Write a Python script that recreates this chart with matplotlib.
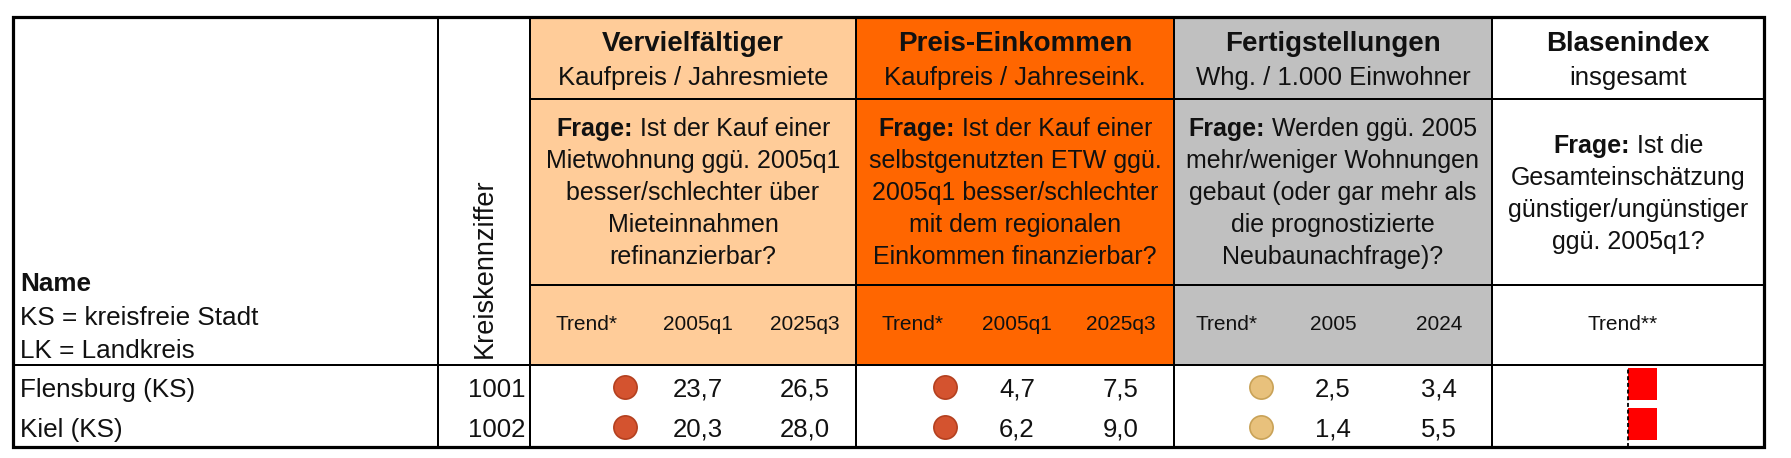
import matplotlib
matplotlib.use("Agg")
import matplotlib.pyplot as plt
from matplotlib.patches import Rectangle
import numpy as np

plt.rcParams['font.family'] = ['Liberation Sans', 'DejaVu Sans']

# ---------------- data ----------------
names = ["Flensburg (KS)", "Kiel (KS)"]
codes = ["1001", "1002"]
verv_trend = ["rot", "rot"]
verv_2005q1 = [23.7, 20.3]
verv_2025q3 = [26.5, 28.0]
preis_trend = ["rot", "rot"]
preis_2005q1 = [4.7, 6.2]
preis_2025q3 = [7.5, 9.0]
fert_trend = ["gelb", "gelb"]
fert_2005 = [2.5, 1.4]
fert_2024 = [3.4, 5.5]
blasen_trend = [1.0, 1.0]

group_titles = ["Vervielfältiger", "Preis-Einkommen", "Fertigstellungen", "Blasenindex"]
group_subtitles = ["Kaufpreis / Jahresmiete", "Kaufpreis / Jahreseink.",
                   "Whg. / 1.000 Einwohner", "insgesamt"]
group_questions = [
    ["Ist der Kauf einer", "Mietwohnung ggü. 2005q1", "besser/schlechter über",
     "Mieteinnahmen", "refinanzierbar?"],
    ["Ist der Kauf einer", "selbstgenutzten ETW ggü.", "2005q1 besser/schlechter",
     "mit dem regionalen", "Einkommen finanzierbar?"],
    ["Werden ggü. 2005", "mehr/weniger Wohnungen", "gebaut (oder gar mehr als",
     "die prognostizierte", "Neubaunachfrage)?"],
    ["Ist die", "Gesamteinschätzung", "günstiger/ungünstiger", "ggü. 2005q1?"],
]
group_headers = [["Trend*", "2005q1", "2025q3"], ["Trend*", "2005q1", "2025q3"],
                 ["Trend*", "2005", "2024"], ["Trend**"]]
name_header = ["KS = kreisfreie Stadt", "LK = Landkreis"]

# ---------------- layout ----------------
W, H = 1791, 458
fig = plt.figure(figsize=(W / 100, H / 100), dpi=100)
ax = fig.add_axes([0, 0, 1, 1])
ax.set_xlim(0, W)
ax.set_ylim(H, 0)
ax.axis('off')
renderer = fig.canvas.get_renderer()

L, R, T, B = 13, 1764, 17, 447
xcol = [438, 530, 856, 1174, 1492]
y_title, y_q, y_row = 99, 285, 365
row_y = [388, 428]
bg_colors = ["#FFCC99", "#FF6600", "#C0C0C0", "#FFFFFF"]
trend_fill = {"rot": "#D4532F", "gelb": "#E8C17C"}
trend_edge = {"rot": "#B4401F", "gelb": "#C9A257"}
txt = "#111111"
FS, FS_H, FS_T, FS_N = 18, 15, 20, 18.8
LW = 2.0 * 0.72

gx = [530, 856, 1174, 1492, 1764]
for i in range(4):
    ax.add_patch(Rectangle((gx[i], T), gx[i + 1] - gx[i], y_row - T,
                           facecolor=bg_colors[i], edgecolor='none', zorder=0))

# grid lines
for x in xcol:
    ax.plot([x, x], [T, B], color='black', lw=LW, solid_capstyle='butt', zorder=3)
for y in (y_title, y_q):
    ax.plot([530, R], [y, y], color='black', lw=LW, solid_capstyle='butt', zorder=3)
ax.plot([L, R], [y_row, y_row], color='black', lw=LW, solid_capstyle='butt', zorder=3)
ax.add_patch(Rectangle((L, T), R - L, B - T, facecolor='none', edgecolor='black',
                       lw=3.2 * 0.72, zorder=4))

# name / code header
ax.text(20, 291, "Name", fontsize=FS_N, fontweight='bold', color=txt, ha='left', va='baseline')
ax.text(20, 325, name_header[0], fontsize=FS_N, color=txt, ha='left', va='baseline')
ax.text(20, 358, name_header[1], fontsize=FS_N, color=txt, ha='left', va='baseline')
ax.text(485, 358, "Kreiskennziffer", fontsize=19.5, color=txt, rotation=90,
        ha='center', va='bottom')


def mixed_line(cx, yb, bold, rest, size):
    t1 = ax.text(0, yb, bold, fontsize=size, fontweight='bold', color=txt,
                 ha='left', va='baseline')
    t2 = ax.text(0, yb, rest, fontsize=size, color=txt, ha='left', va='baseline')
    w1 = t1.get_window_extent(renderer).width
    sp = ax.text(0, yb, "a a", fontsize=size)
    sa = ax.text(0, yb, "aa", fontsize=size)
    wsp = sp.get_window_extent(renderer).width - sa.get_window_extent(renderer).width
    sp.remove(); sa.remove()
    w2 = t2.get_window_extent(renderer).width
    x0 = cx - (w1 + wsp + w2) / 2
    t1.set_x(x0)
    t2.set_x(x0 + w1 + wsp)


for i in range(4):
    cx = (gx[i] + gx[i + 1]) / 2
    ax.text(cx, 51, group_titles[i], fontsize=FS_T, fontweight='bold', color=txt,
            ha='center', va='baseline')
    ax.text(cx, 85, group_subtitles[i], fontsize=18.5, color=txt, ha='center', va='baseline')
    lines = group_questions[i]
    n = len(lines)
    c = 191 if n == 5 else 192
    ys = [c + (k - (n - 1) / 2) * 32 + 9 for k in range(n)]
    mixed_line(cx, ys[0], "Frage:", lines[0], FS)
    for k in range(1, n):
        ax.text(cx, ys[k], lines[k], fontsize=FS, color=txt, ha='center', va='baseline')

# column positions inside groups: trend label, circle, value1, value2
hdr_x = [[587, 698, 805], [913, 1017, 1121], [1226, 1333, 1439], [1623]]
circ_x = [625, 945, 1261]
val_x = [[698, 805], [1017, 1121], [1333, 1439]]
for i in range(4):
    for lab, x in zip(group_headers[i], hdr_x[i]):
        ax.text(x, 330, lab, fontsize=FS_H, color=txt, ha='center', va='baseline')

# rows
trends = [verv_trend, preis_trend, fert_trend]
vals = [(verv_2005q1, verv_2025q3), (preis_2005q1, preis_2025q3), (fert_2005, fert_2024)]
fmt = lambda v: f"{v:.1f}".replace('.', ',')
for r in range(len(names)):
    yb = row_y[r] + 9
    ax.text(20, yb, names[r], fontsize=FS_N, color=txt, ha='left', va='baseline')
    ax.text(525, yb, codes[r], fontsize=18.5, color=txt, ha='right', va='baseline')
    for g in range(3):
        ax.scatter([circ_x[g]], [row_y[r] - 1], s=280, c=trend_fill[trends[g][r]],
                   edgecolors=trend_edge[trends[g][r]], linewidths=1.2, zorder=5)
        for k in range(2):
            ax.text(val_x[g][k], yb, fmt(vals[g][k][r]), fontsize=18.5, color=txt,
                    ha='center', va='baseline')

# Blasenindex trend bars
bx0, bx1, by0, by1 = 1626, 1762, 364, 447
bax = fig.add_axes([bx0 / W, (H - by1) / H, (bx1 - bx0) / W, (by1 - by0) / H])
bax.set_facecolor('none')
bax.barh(np.arange(len(blasen_trend)), blasen_trend, height=0.8, left=0,
         color='#FF0000', edgecolor='none', zorder=2)
bax.set_xlim(-0.07, 4.62)
bax.set_ylim(1.575, -0.5)
bax.axvline(0, ymin=0, ymax=(by1 - 368) / (by1 - by0), color='black', lw=1.3,
            dashes=(2.2, 1.5), zorder=5)
bax.axis('off')

fig.savefig("out.png", dpi=100)
